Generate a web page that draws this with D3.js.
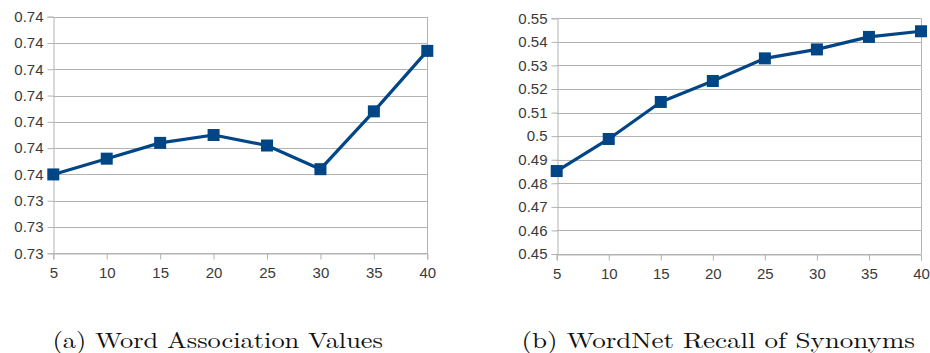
<!DOCTYPE html>
<html>
<head>
<meta charset="utf-8">
<script src="https://cdn.jsdelivr.net/npm/d3@7"></script>
<style>
  html, body { margin: 0; padding: 0; background: #fff; }
  svg { display: block; }
</style>
</head>
<body>
<svg id="chart" width="930" height="353"></svg>
<script>
// ---- Data ----
const windowSizes = [5, 10, 15, 20, 25, 30, 35, 40];

const assocValues = [0.7350, 0.7356, 0.7362, 0.7365, 0.7361, 0.7352, 0.7374, 0.7397];
const assocTicks = [0.732, 0.733, 0.734, 0.735, 0.736, 0.737, 0.738, 0.739, 0.740, 0.741];
const assocTickLabels = ["0.73", "0.73", "0.73", "0.74", "0.74", "0.74", "0.74", "0.74", "0.74", "0.74"];

const recallValues = [0.4852, 0.4988, 0.5145, 0.5234, 0.5330, 0.5368, 0.5421, 0.5445];
const recallTicks = [0.45, 0.46, 0.47, 0.48, 0.49, 0.50, 0.51, 0.52, 0.53, 0.54, 0.55];
const recallTickLabels = ["0.45", "0.46", "0.47", "0.48", "0.49", "0.5", "0.51", "0.52", "0.53", "0.54", "0.55"];

const captions = ["(a) Word Association Values", "(b) WordNet Recall of Synonyms"];

// ---- Drawing ----
const svg = d3.select("#chart");
const lineColor = "#004586";
const gridColor = "#b3b3b3";
const textColor = "#3a3a3a";

function drawPanel(cfg) {
  const x = d3.scaleLinear().domain([5, 40]).range([cfg.x0, cfg.x1]);
  const y = d3.scaleLinear().domain([cfg.ticks[0], cfg.ticks[cfg.ticks.length - 1]]).range([cfg.yb, cfg.yt]);
  const g = svg.append("g");

  // horizontal gridlines
  g.selectAll("line.grid").data(cfg.ticks).join("line")
    .attr("x1", cfg.x0).attr("x2", cfg.x1)
    .attr("y1", d => Math.round(y(d)) + 0.5).attr("y2", d => Math.round(y(d)) + 0.5)
    .attr("stroke", gridColor).attr("stroke-width", 1);

  // right border
  g.append("line")
    .attr("x1", Math.round(cfg.x1) + 0.5).attr("x2", Math.round(cfg.x1) + 0.5)
    .attr("y1", y(cfg.ticks[cfg.ticks.length - 1])).attr("y2", cfg.yb)
    .attr("stroke", gridColor);

  // y axis
  const yAxis = d3.axisLeft(y).tickValues(cfg.ticks)
    .tickFormat((d, i) => cfg.tickLabels[i]).tickSize(6).tickPadding(4);
  const ya = g.append("g").attr("transform", `translate(${Math.round(cfg.x0) + 0.5},0)`).call(yAxis);
  ya.select(".domain").attr("stroke", gridColor);
  ya.selectAll(".tick line").attr("stroke", gridColor);
  ya.selectAll(".tick text").attr("fill", textColor)
    .style("font-family", "'Liberation Sans', Arial, sans-serif").style("font-size", "15px");

  // x axis
  const xAxis = d3.axisBottom(x).tickValues(windowSizes).tickFormat(d3.format("d")).tickSize(6).tickPadding(8);
  const xa = g.append("g").attr("transform", `translate(0,${Math.round(cfg.yb) + 0.5})`).call(xAxis);
  xa.select(".domain").attr("stroke", gridColor);
  xa.selectAll(".tick line").attr("stroke", gridColor);
  xa.selectAll(".tick text").attr("fill", textColor)
    .style("font-family", "'Liberation Sans', Arial, sans-serif").style("font-size", "15px");

  // line
  const line = d3.line().x((d, i) => x(windowSizes[i])).y(d => y(d));
  g.append("path").datum(cfg.values)
    .attr("d", line).attr("fill", "none")
    .attr("stroke", lineColor).attr("stroke-width", 3.2).attr("stroke-linejoin", "round");

  // markers
  const s = 12;
  g.selectAll("rect.mk").data(cfg.values).join("rect")
    .attr("x", (d, i) => x(windowSizes[i]) - s / 2)
    .attr("y", d => y(d) - s / 2)
    .attr("width", s).attr("height", s)
    .attr("fill", lineColor);

  // caption
  svg.append("text")
    .attr("x", cfg.capX).attr("y", 348)
    .attr("textLength", cfg.capW).attr("lengthAdjust", "spacingAndGlyphs")
    .style("font-family", "'Latin Modern Roman', 'CMU Serif', 'DejaVu Serif', serif")
    .style("font-size", "22px").attr("fill", "#111")
    .text(cfg.caption);
}

drawPanel({
  x0: 53.3, x1: 427.3, yt: 16.7, yb: 253.3,
  ticks: assocTicks, tickLabels: assocTickLabels, values: assocValues,
  caption: captions[0], capX: 52.5, capW: 330.5
});

drawPanel({
  x0: 556.7, x1: 921, yt: 18.3, yb: 254,
  ticks: recallTicks, tickLabels: recallTickLabels, values: recallValues,
  caption: captions[1], capX: 521.5, capW: 393.5
});
</script>
</body>
</html>
